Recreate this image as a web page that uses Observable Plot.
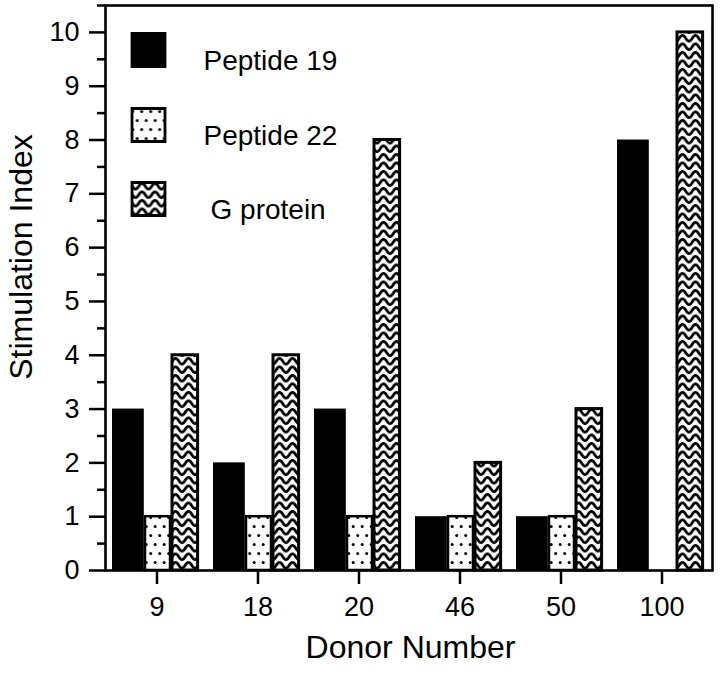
<!DOCTYPE html>
<html><head><meta charset="utf-8">
<script src="https://cdn.jsdelivr.net/npm/d3@7"></script>
<script src="https://cdn.jsdelivr.net/npm/@observablehq/plot@0.6"></script>
<style>body{margin:0;background:#fff}</style>
</head><body><div id="chart"></div>
<script>
const donors = ["9", "18", "20", "46", "50", "100"];
const peptide19 = [3, 2, 3, 1, 1, 8];
const peptide22 = [1, 1, 1, 1, 1, 0];
const gProtein = [4, 4, 8, 2, 3, 10];
const yMajorTicks = [0, 1, 2, 3, 4, 5, 6, 7, 8, 9, 10];
const yMinorTicks = [0.5, 1.5, 2.5, 3.5, 4.5, 5.5, 6.5, 7.5, 8.5, 9.5, 10.5];
const seriesNames = ["Peptide 19", "Peptide 22", "G protein"];
const xTitle = "Donor Number";
const yTitle = "Stimulation Index";

const table = donors.map((donor, i) => ({donor, p19: peptide19[i], p22: peptide22[i], g: gProtein[i]}));

const legendItem = (label, fill, dy, textDx) => [
  Plot.dot([label], {frameAnchor: "top-left", dx: 43, dy, symbol: "square", r: 18.6, fill, stroke: "black", strokeWidth: 2.8}),
  Plot.text([label], {frameAnchor: "top-left", dx: textDx, dy, text: d => d, textAnchor: "start", fontSize: 28, fill: "black"})
];

const plot = Plot.plot({
  width: 720,
  height: 678,
  marginLeft: 105,
  marginRight: 8,
  marginTop: 5,
  marginBottom: 108,
  style: {fontFamily: "'Liberation Sans', Arial, sans-serif", fontSize: "27px", background: "white", color: "black"},
  x: {domain: donors, padding: 0},
  y: {domain: [0, 10.5]},
  marks: [
    Plot.barY(table, {x: "donor", y: "p19", fill: "black", insetLeft: 6, insetRight: 63.2}),
    Plot.barY(table.filter(d => d.p22 > 0), {x: "donor", y: "p22", fill: "url(#dots)", stroke: "black", strokeWidth: 2.5, insetLeft: 39, insetRight: 37}),
    Plot.barY(table, {x: "donor", y: "g", fill: "url(#waves)", stroke: "black", strokeWidth: 3, insetLeft: 66, insetRight: 9.4}),
    Plot.frame({stroke: "black", strokeWidth: 2.6}),
    Plot.axisY(yMajorTicks, {anchor: "left", tickSize: 16, tickPadding: 10, strokeWidth: 2.5, label: null, fontSize: 27, tickFormat: d3.format("d")}),
    Plot.axisY(yMinorTicks, {anchor: "left", tickSize: 8, strokeWidth: 2.5, tickFormat: () => "", label: null}),
    Plot.axisX({anchor: "bottom", tickSize: 14, tickPadding: 12, strokeWidth: 2.5, label: null, fontSize: 27}),
    Plot.text([yTitle], {frameAnchor: "left", textAnchor: "middle", rotate: -90, dx: -84, dy: -31, text: d => d, fontSize: 32, fill: "black"}),
    Plot.text([xTitle], {frameAnchor: "bottom", textAnchor: "middle", dx: 1.5, dy: 87, text: d => d, fontSize: 32, fill: "black"}),
    ...legendItem(seriesNames[0], "black", 44.5, 98),
    ...legendItem(seriesNames[1], "url(#dots)", 119.5, 98),
    ...legendItem(seriesNames[2], "url(#waves)", 193.5, 105)
  ]
});

const defs = d3.select(plot).insert("defs", ":first-child");
const dots = defs.append("pattern").attr("id", "dots").attr("patternUnits", "userSpaceOnUse").attr("width", 9).attr("height", 18);
dots.append("rect").attr("width", 9).attr("height", 18).attr("fill", "white");
dots.append("circle").attr("cx", 2.2).attr("cy", 4.5).attr("r", 1.5).attr("fill", "black");
dots.append("circle").attr("cx", 6.7).attr("cy", 13.5).attr("r", 1.5).attr("fill", "black");
const waves = defs.append("pattern").attr("id", "waves").attr("patternUnits", "userSpaceOnUse").attr("width", 13).attr("height", 8.5);
waves.append("rect").attr("width", 13).attr("height", 8.5).attr("fill", "white");
waves.append("path").attr("d", "M0,7 C3.25,7 3.25,1.5 6.5,1.5 C9.75,1.5 9.75,7 13,7").attr("fill", "none").attr("stroke", "black").attr("stroke-width", 2.8);

document.getElementById("chart").appendChild(plot);
</script>
</body></html>
